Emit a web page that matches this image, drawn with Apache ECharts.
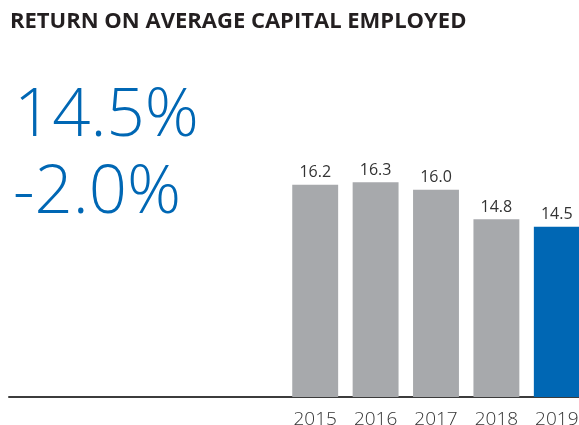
<!DOCTYPE html>
<html>
<head>
<meta charset="utf-8">
<script src="https://cdn.jsdelivr.net/npm/echarts@6/dist/echarts.min.js"></script>
<style>
  html, body { margin: 0; padding: 0; background: #fff; }
  #chart { width: 579px; height: 425px; }
</style>
</head>
<body>
<div id="chart"></div>
<script>
// Return on average capital employed, per year (%)
const years = ['2015', '2016', '2017', '2018', '2019'];
const rocValues = [16.2, 16.3, 16.0, 14.8, 14.5];
const headlineValue = '14.5%';
const headlineChange = '-2.0%';
const chartTitle = 'RETURN ON AVERAGE CAPITAL EMPLOYED';

const GREY = '#a7a9ac';
const BLUE = '#0067b4';

const chart = echarts.init(document.getElementById('chart'), null, { renderer: 'canvas' });

const barData = rocValues.map((v, i) => ({
  value: v,
  itemStyle: { color: i === rocValues.length - 1 ? BLUE : GREY }
}));

chart.setOption({
  animation: false,
  backgroundColor: '#fff',
  title: [
    {
      text: chartTitle,
      left: 5, top: 6,
      textStyle: { fontFamily: 'Open Sans', fontWeight: 'bold', fontSize: 22, color: '#231f20' }
    },
    {
      text: headlineValue,
      left: 9, top: 78,
      textStyle: { fontFamily: 'Open Sans', fontWeight: 300, fontSize: 67, color: BLUE }
    },
    {
      text: headlineChange,
      left: 8, top: 155,
      textStyle: { fontFamily: 'Open Sans', fontWeight: 300, fontSize: 67, color: BLUE }
    }
  ],
  grid: [
    { left: 285, right: -8, top: 91, bottom: 28, containLabel: false, outerBoundsMode: 'none' },
    { left: 9, right: 0, top: 91, bottom: 28, containLabel: false, outerBoundsMode: 'none' }
  ],
  xAxis: [
    {
      type: 'category',
      gridIndex: 0,
      data: years,
      axisLine: { show: false },
      axisTick: { show: false },
      axisLabel: { fontFamily: 'Open Sans', fontWeight: 300, fontSize: 19, color: '#333', margin: 13 }
    },
    {
      type: 'value',
      gridIndex: 1,
      min: 0, max: 1,
      axisLine: { show: true, onZero: false, lineStyle: { color: '#3c3c3c', width: 2 } },
      axisTick: { show: false },
      axisLabel: { show: false },
      splitLine: { show: false }
    }
  ],
  yAxis: [
    { type: 'value', gridIndex: 0, min: 7.6, max: 20, show: false },
    { type: 'value', gridIndex: 1, min: 0, max: 1, show: false }
  ],
  series: [
    {
      type: 'bar',
      xAxisIndex: 0,
      yAxisIndex: 0,
      data: barData,
      barCategoryGap: '24%',
      z: 1,
      label: {
        show: true,
        position: 'top',
        distance: 4,
        fontFamily: 'Open Sans',
        fontSize: 16,
        color: '#333',
        formatter: p => p.value.toFixed(1)
      }
    }
  ]
});
</script>
</body>
</html>
